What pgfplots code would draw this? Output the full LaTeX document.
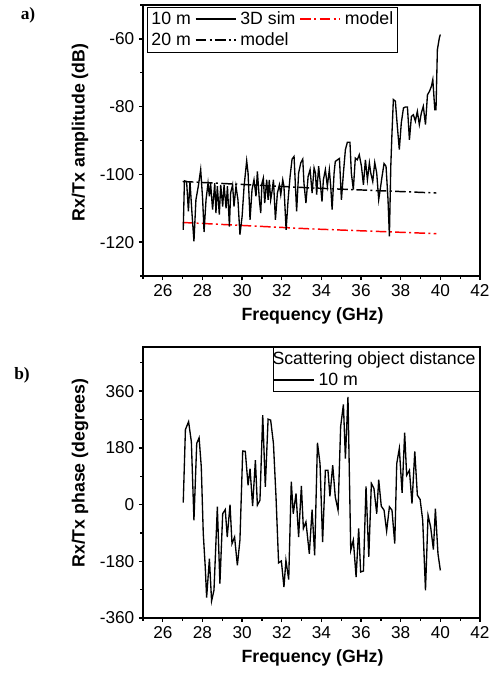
\documentclass[border=0pt]{standalone}
\usepackage{fontspec}
\setmainfont{Liberation Sans}
\newfontfamily\tnr{Liberation Serif}
\usepackage{pgfplots}
\pgfplotsset{compat=1.18}

\pgfplotsset{
  panel/.style={
    scale only axis, width=252.75pt, height=203.25pt,
    xmin=25, xmax=42,
    xtick={26,28,...,42}, minor xtick={25,27,...,41},
    tick align=outside, xtick pos=left, ytick pos=left,
    major tick length=3pt, minor tick length=2pt,
    axis line style={line width=1.4pt},
    tick style={black, line width=1pt},
    tick label style={font=\fontsize{12.9}{14}\selectfont},
    label style={font=\fontsize{13.3}{16}\selectfont\bfseries},
    /pgf/number format/assume math mode=true,
    xlabel={Frequency (GHz)},
    xlabel style={at={(axis description cs:0.503,-0.148)}, anchor=center},
    legend cell align=left,
    legend style={draw=black, line width=0.6pt, font=\fontsize{13.3}{16}\selectfont,
      inner xsep=0pt, inner ysep=1pt, nodes={inner xsep=3pt, inner ysep=2.3pt}},
    legend image code/.code={\draw[#1] (0pt,0pt) -- (30pt,0pt);},
  },
  mdash/.style={line width=1.1pt, dash pattern=on 8pt off 2.5pt on 1.5pt off 2.5pt},
}

\begin{document}
\begin{tikzpicture}
\useasboundingbox (0,0) rectangle (371.25pt,-507pt);

\begin{axis}[panel,
  at={(107.25pt,-3.75pt)}, anchor=north west,
  ymin=-130, ymax=-50,
  ytick={-120,-100,-80,-60}, minor ytick={-130,-110,-90,-70,-50},
  ylabel={Rx/Tx amplitude (dB)},
  ylabel style={at={(axis description cs:-0.187,0.53)}, anchor=center},
  legend columns=3,
  legend style={at={(axis description cs:0.012,0.993)}, anchor=north west},
]
% 20 m model
\addplot[black, mdash, forget plot] coordinates {
(27.0,-102.1) (33.5,-104.0) (39.8,-105.5)};
% 10 m model
\addplot[red, mdash, forget plot] coordinates {
(27.0,-114.2) (33.5,-116.1) (39.8,-117.5)};
% 3D simulation, 10 m
\addplot[black, line width=1pt, forget plot] coordinates {
(27.03,-116.4) (27.09,-101.9) (27.20,-102.1) (27.29,-110.9) (27.37,-102.1) (27.47,-111.4) (27.57,-119.8) (27.67,-107.5) (27.79,-103.5) (27.91,-98.6)
(28.01,-107.5) (28.08,-117.0) (28.18,-107.5) (28.28,-102.6) (28.35,-106.5) (28.41,-102.6) (28.51,-110.4) (28.62,-102.6) (28.68,-111.4) (28.75,-103.5)
(28.85,-111.9) (28.92,-103.1) (29.02,-109.5) (29.09,-103.1) (29.19,-110.0) (29.26,-103.5) (29.36,-115.4) (29.42,-105.5) (29.52,-103.1) (29.59,-109.5)
(29.69,-103.5) (29.79,-107.5) (29.89,-117.8) (30.00,-112.4) (30.10,-103.5) (30.23,-96.0) (30.30,-99.6) (30.40,-113.4) (30.50,-104.5) (30.60,-101.6)
(30.70,-106.5) (30.77,-99.1) (30.87,-107.5) (30.94,-111.4) (31.00,-102.6) (31.07,-101.1) (31.14,-108.5) (31.24,-101.6) (31.31,-107.5) (31.37,-101.6)
(31.44,-107.5) (31.51,-105.0) (31.58,-101.6) (31.68,-113.4) (31.78,-105.5) (31.88,-103.1) (31.95,-106.0) (32.05,-101.6) (32.11,-103.5) (32.22,-116.4)
(32.32,-107.5) (32.42,-100.6) (32.52,-95.5) (32.62,-94.7) (32.69,-103.5) (32.75,-110.9) (32.85,-99.6) (32.96,-96.6) (33.06,-95.5) (33.12,-102.6)
(33.22,-108.5) (33.33,-100.6) (33.43,-98.6) (33.53,-105.5) (33.63,-98.1) (33.70,-99.6) (33.76,-106.0) (33.86,-97.6) (33.96,-103.5) (34.03,-108.0)
(34.10,-101.6) (34.20,-98.6) (34.30,-103.5) (34.40,-98.6) (34.47,-103.5) (34.54,-110.4) (34.64,-99.6) (34.70,-96.2) (34.81,-95.7) (34.91,-95.3)
(35.01,-107.5) (35.11,-99.6) (35.21,-92.7) (35.31,-90.5) (35.44,-90.5) (35.51,-99.6) (35.61,-104.5) (35.71,-95.2) (35.81,-95.7) (35.91,-94.2)
(36.02,-97.6) (36.12,-103.1) (36.22,-95.7) (36.32,-101.6) (36.42,-96.6) (36.49,-99.6) (36.59,-102.1) (36.69,-96.5) (36.79,-99.6) (36.89,-107.5)
(36.99,-103.5) (37.06,-100.6) (37.16,-96.8) (37.26,-97.6) (37.36,-107.5) (37.43,-118.3) (37.50,-97.6) (37.56,-87.8) (37.63,-77.9) (37.73,-78.4)
(37.83,-85.8) (37.93,-92.7) (38.03,-84.8) (38.14,-80.4) (38.24,-80.1) (38.34,-80.1) (38.44,-89.8) (38.54,-82.9) (38.64,-82.4) (38.74,-84.3)
(38.84,-81.4) (38.94,-85.3) (39.04,-81.9) (39.14,-79.9) (39.25,-85.3) (39.35,-76.5) (39.45,-75.5) (39.55,-74.0) (39.62,-72.0) (39.72,-80.9)
(39.78,-80.9) (39.85,-63.2) (39.95,-59.7) (40.00,-58.7)};
\addlegendimage{empty legend}\addlegendentry{10 m}
\addlegendimage{black, line width=1pt}\addlegendentry{3D sim}
\addlegendimage{red, mdash}\addlegendentry{model}
\addlegendimage{empty legend}\addlegendentry{20 m}
\addlegendimage{black, mdash}\addlegendentry{model}
\end{axis}

\begin{axis}[panel,
  at={(107.25pt,-260.25pt)}, anchor=north west,
  ymin=-360, ymax=500,
  ytick={-360,-180,0,180,360}, minor ytick={-270,-90,90,270,450},
  ylabel={Rx/Tx phase (degrees)},
  ylabel style={at={(axis description cs:-0.187,0.535)}, anchor=center},
  legend columns=1,
  legend style={at={(axis description cs:1,1)}, anchor=north east},
]
\addlegendimage{empty legend}\addlegendentry{\hspace{-34.5pt}Scattering object distance}
\addplot[black, line width=1pt] coordinates {
(27.03,6) (27.14,238) (27.30,263) (27.44,199) (27.57,-50) (27.71,194) (27.83,212) (27.94,120) (28.04,-92) (28.14,-198)
(28.21,-295) (28.35,-172) (28.46,-306) (28.58,-272) (28.65,-166) (28.75,-7) (28.88,-251) (29.02,-29) (29.15,-16) (29.25,-103)
(29.39,0) (29.49,-124) (29.62,-103) (29.76,-193) (29.89,-113) (30.03,170) (30.16,169) (30.30,61) (30.40,114) (30.53,-5)
(30.67,141) (30.77,-2) (30.90,14) (31.04,284) (31.17,56) (31.31,271) (31.44,268) (31.58,194) (31.71,24) (31.84,-185)
(31.98,-179) (32.11,-262) (32.21,-177) (32.35,-238) (32.48,73) (32.58,-29) (32.72,35) (32.85,-103) (32.99,59) (33.09,-76)
(33.22,-55) (33.39,-156) (33.53,-16) (33.66,-161) (33.80,196) (33.93,130) (34.06,-119) (34.20,109) (34.33,109) (34.43,26)
(34.57,125) (34.70,24) (34.84,-18) (34.97,247) (35.11,318) (35.21,146) (35.34,342) (35.48,-145) (35.61,-113) (35.75,-230)
(35.88,-76) (35.98,-214) (36.12,-211) (36.25,58) (36.39,-166) (36.52,67) (36.65,51) (36.79,-29) (36.89,79) (37.02,-5)
(37.16,-18) (37.29,-84) (37.43,-7) (37.56,-18) (37.70,-124) (37.80,130) (37.93,178) (38.07,37) (38.20,228) (38.30,93)
(38.44,109) (38.57,3) (38.71,169) (38.84,30) (38.98,16) (39.11,-50) (39.25,-272) (39.38,-34) (39.51,-71) (39.65,-143)
(39.75,-13) (39.88,-156) (40.00,-209)};
\addlegendentry{10 m}
\end{axis}

\node[font=\tnr\bfseries\fontsize{13}{15}\selectfont] at (21pt,-11.25pt) {a)};
\node[font=\tnr\bfseries\fontsize{13}{15}\selectfont] at (16.5pt,-281.25pt) {b)};
\end{tikzpicture}
\end{document}
